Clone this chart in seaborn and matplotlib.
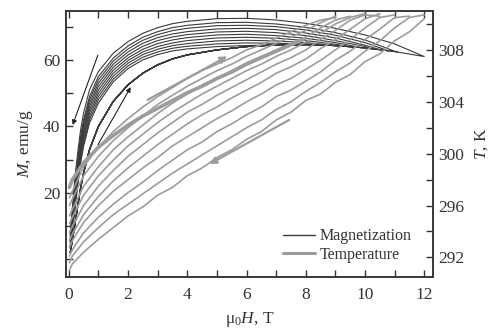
import matplotlib
matplotlib.use('Agg')
import numpy as np
import pandas as pd
import seaborn as sns
import matplotlib.pyplot as plt
from matplotlib.lines import Line2D
from matplotlib.ticker import FixedLocator, MultipleLocator

# --- magnetization loops (field grid, ascending branch, descending branches) ---
H_M = [0.05, 0.2, 0.3, 0.4, 0.5, 0.7, 1.0, 1.5, 2, 2.5, 3, 3.5, 4, 5, 6, 7, 8, 9, 10, 11, 12]
M_UP = [2, 10, 16, 21.5, 26, 33, 40, 47.5, 52.5, 56, 58.5, 60.3, 61.5, 63, 64, 64.5, 64.6, 64.3, 63.6, 62.5, 61]

LOOP_HMAX = [12, 11.1, 10.8, 10.5, 10.2, 9.8, 9.4, 9.0, 8.5, 8.0]
LOOP_TIP_M = [61.0, 62.4, 62.7, 63.1, 63.4, 63.8, 64.1, 64.3, 64.5, 64.6]
M_DOWN = [
    [8, 24, 32, 39, 44, 51, 56.5, 62, 65.5, 68, 69.7, 70.9, 71.6, 72.4, 72.5, 72.0, 71.0, 69.5, 67.5, 64.8],
    [7, 22, 30, 37, 42, 49, 55, 60.5, 64.2, 66.8, 68.5, 69.7, 70.4, 71.2, 71.3, 70.8, 69.8, 68.2, 66.0, 62.6],
    [7, 21, 29, 36, 41, 48, 54, 59.6, 63.3, 65.9, 67.6, 68.8, 69.5, 70.3, 70.4, 70.0, 69.0, 67.4, 65.2],
    [6, 20, 28, 35, 40, 47, 53, 58.7, 62.4, 65.0, 66.7, 67.8, 68.5, 69.3, 69.5, 69.1, 68.1, 66.6, 64.4],
    [6, 19, 27, 34, 39, 46, 52, 57.8, 61.5, 64.1, 65.8, 66.9, 67.6, 68.4, 68.6, 68.2, 67.3, 65.8, 64.0],
    [5, 18, 26, 33, 38, 45, 51, 56.9, 60.6, 63.2, 64.9, 66.0, 66.7, 67.5, 67.7, 67.3, 66.5, 65.2],
    [5, 17, 25, 32, 37, 44, 50, 56.0, 59.8, 62.4, 64.0, 65.1, 65.8, 66.6, 66.8, 66.5, 65.8, 64.7],
    [4, 16, 24, 31, 36, 43, 49, 55.1, 59.0, 61.6, 63.2, 64.3, 64.9, 65.7, 65.9, 65.7, 65.2],
    [4, 15, 23, 30, 35, 42, 48, 54.2, 58.2, 60.8, 62.4, 63.5, 64.1, 64.8, 65.1, 65.0, 64.8],
    [3, 14, 22, 29, 34, 41, 47, 53.4, 57.4, 60.0, 61.6, 62.7, 63.3, 64.0, 64.3, 64.5],
]

# --- temperature curves ---
H_T = [0.02, 0.12, 0.5, 1, 1.5, 2, 2.5, 3, 3.5, 4, 4.5, 5, 5.5, 6, 6.5, 7, 7.5, 8,
       8.5, 9, 9.5, 10, 10.5, 11, 11.5, 12]
T_DOWN = [
    [291.0, 291.5, 292.4, 293.4, 294.3, 295.2, 295.9, 296.8, 297.4, 298.3, 298.9, 299.7, 300.3,
     301.1, 301.7, 302.6, 303.2, 304.1, 304.6, 305.5, 306.1, 307.1, 307.7, 308.7, 309.4, 310.4],
    [291.6, 292.1, 293.2, 294.3, 295.3, 296.1, 296.9, 297.7, 298.5, 299.2, 299.9, 300.6, 301.3,
     302.0, 302.6, 303.4, 304.0, 304.8, 305.5, 306.3, 307.0, 307.9, 308.7, 309.7, 310.5, 310.7],
    [292.1, 292.6, 293.9, 295.1, 296.1, 297.0, 297.8, 298.7, 299.5, 300.3, 300.9, 301.7, 302.3,
     303.0, 303.6, 304.4, 304.9, 305.6, 306.3, 307.2, 307.9, 308.8, 309.6, 310.5, 310.6],
    [292.8, 293.3, 294.7, 296.0, 297.1, 298.0, 298.9, 299.7, 300.6, 301.3, 302.0, 302.7, 303.3,
     304.0, 304.6, 305.3, 305.8, 306.5, 307.2, 308.0, 308.8, 309.7, 310.5, 310.7],
    [293.3, 293.8, 295.3, 296.7, 297.9, 298.9, 299.8, 300.7, 301.5, 302.3, 303.0, 303.6, 304.3,
     304.9, 305.5, 306.2, 306.7, 307.3, 308.1, 308.8, 309.6, 310.4, 310.8],
    [293.9, 294.4, 296.0, 297.5, 298.7, 299.8, 300.7, 301.6, 302.4, 303.2, 303.8, 304.5, 305.1,
     305.7, 306.3, 306.9, 307.4, 308.0, 308.8, 309.5, 310.3, 310.7, 310.6],
    [294.6, 295.1, 296.8, 298.3, 299.5, 300.6, 301.5, 302.4, 303.2, 303.9, 304.6, 305.2, 305.8,
     306.4, 306.9, 307.5, 308.0, 308.6, 309.3, 310.0, 310.5, 310.8],
    [295.2, 295.7, 297.5, 299.0, 300.3, 301.3, 302.2, 303.1, 303.9, 304.6, 305.3, 305.8, 306.4,
     307.0, 307.5, 308.0, 308.5, 309.0, 309.7, 310.3, 310.6],
    [296.0, 296.5, 298.3, 299.8, 301.0, 302.0, 302.9, 303.8, 304.5, 305.2, 305.8, 306.4, 306.9,
     307.5, 308.0, 308.5, 309.0, 309.5, 310.1, 310.6],
    [296.6, 297.1, 299.0, 300.5, 301.7, 302.7, 303.6, 304.4, 305.1, 305.8, 306.4, 306.9, 307.4,
     308.0, 308.4, 308.9, 309.4, 309.9, 310.3, 310.5],
]
T_FIRST = [297.4, 298.0, 299.3, 300.5, 301.4, 302.2, 302.9, 303.5, 304.1, 304.7, 305.2, 305.8,
           306.3, 306.9, 307.4, 307.9, 308.4, 308.9]

MAG_COLOR = '#3a3a3a'
TEMP_COLOR = '#9c9c9c'

sns.set_style('ticks')
plt.rcParams['font.family'] = ['Liberation Serif', 'DejaVu Serif']
plt.rcParams['mathtext.fontset'] = 'custom'
plt.rcParams['mathtext.rm'] = 'Liberation Serif'
plt.rcParams['mathtext.it'] = 'Liberation Serif:italic'

# build loop table: up along the lower branch, back down along the upper one
rows = []
for i, hmax in enumerate(LOOP_HMAX):
    n = len(M_DOWN[i])
    hs = H_M[:n] + [hmax] + H_M[:n][::-1]
    ms = M_UP[:n] + [LOOP_TIP_M[i]] + M_DOWN[i][::-1]
    for k, (h, m) in enumerate(zip(hs, ms)):
        rows.append({'loop': i, 'step': k, 'H': h, 'M': m})
mag = pd.DataFrame(rows)

rows = []
for i, ts in enumerate(T_DOWN):
    for h, t in zip(H_T, ts):
        rows.append({'curve': i, 'H': h, 'T': t})
temp = pd.DataFrame(rows)
first = pd.DataFrame({'H': H_T[:len(T_FIRST)], 'T': T_FIRST})

fig, ax = plt.subplots(figsize=(4.95, 3.34), dpi=100)
fig.subplots_adjust(left=0.133, right=0.875, bottom=0.171, top=0.967)
ax2 = ax.twinx()

sns.lineplot(data=mag, x='H', y='M', units='loop', estimator=None, sort=False,
             color=MAG_COLOR, lw=0.8, ax=ax)
sns.lineplot(data=temp, x='H', y='T', units='curve', estimator=None, sort=False,
             color=TEMP_COLOR, lw=1.2, ax=ax2)
sns.lineplot(data=first, x='H', y='T', estimator=None, sort=False,
             color=TEMP_COLOR, lw=2.6, ax=ax2)

ax.set_xlim(-0.1, 12.3)
ax.set_ylim(-5.3, 74.7)
ax2.set_ylim(290.5, 311)

# arrows showing sweep direction
arr = dict(arrowstyle='-|>', lw=0.8, mutation_scale=7, shrinkA=0, shrinkB=0)
ax.annotate('', xy=(0.13, 40.4), xytext=(0.98, 61.4), arrowprops=dict(arr, color='#222222'))
ax.annotate('', xy=(2.09, 51.8), xytext=(0.98, 34.4), arrowprops=dict(arr, color='#222222'))
ax2.annotate('', xy=(5.35, 307.5), xytext=(2.66, 304.15),
             arrowprops=dict(arr, color=TEMP_COLOR, lw=1.6, mutation_scale=10))
ax2.annotate('', xy=(4.75, 299.2), xytext=(7.44, 302.6),
             arrowprops=dict(arr, color=TEMP_COLOR, lw=1.6, mutation_scale=10))

ax.xaxis.set_major_locator(MultipleLocator(2))
ax.xaxis.set_minor_locator(MultipleLocator(1))
ax.yaxis.set_major_locator(FixedLocator([20, 40, 60]))
ax.yaxis.set_minor_locator(FixedLocator([0, 10, 30, 50, 70]))
ax2.yaxis.set_major_locator(FixedLocator([292, 296, 300, 304, 308]))
ax2.yaxis.set_minor_locator(FixedLocator([294, 298, 302, 306, 310]))

ax.tick_params(which='both', direction='in', top=True, right=False, length=5,
               width=1.0, color='#333333', labelsize=12.5, labelcolor='#333333', pad=4)
ax.tick_params(axis='x', which='both', pad=7)
ax2.tick_params(which='both', direction='in', length=5, width=1.0, color='#333333',
                labelsize=12.5, labelcolor='#333333', pad=4)
for a in (ax, ax2):
    for s in a.spines.values():
        s.set_visible(True)
        s.set_color('#333333')
        s.set_linewidth(1.1)

ax.set_xlabel('μ$_0$$H$, T', fontsize=12.5, color='#333333', labelpad=5)
ax.set_ylabel('$M$, emu/g', fontsize=12.5, color='#333333', labelpad=6)
ax2.set_ylabel('$T$, K', fontsize=12.5, color='#333333', labelpad=6)

handles = [Line2D([], [], color=MAG_COLOR, lw=1.0),
           Line2D([], [], color=TEMP_COLOR, lw=2.2)]
ax2.legend(handles, ['Magnetization', 'Temperature'], loc='lower right',
           bbox_to_anchor=(0.96, 0.03), frameon=False, fontsize=11.5,
           handlelength=2.0, handletextpad=0.3, labelspacing=0.15, borderaxespad=0,
           labelcolor='#333333')

fig.savefig('out.png', dpi=100)
